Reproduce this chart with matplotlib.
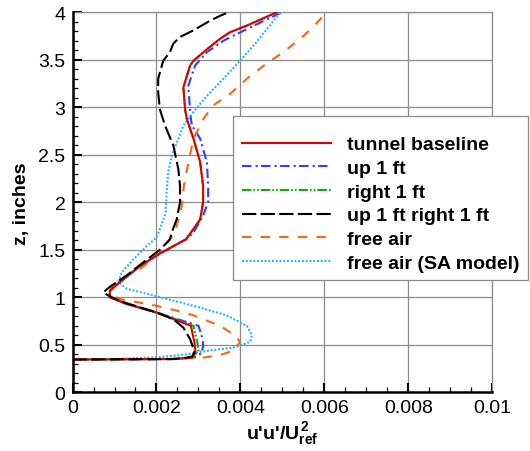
import matplotlib
matplotlib.use("Agg")
import matplotlib.pyplot as plt
from matplotlib.ticker import MultipleLocator, FuncFormatter

plt.rcParams['font.family'] = ['Liberation Sans', 'DejaVu Sans']
plt.rcParams['mathtext.fontset'] = 'custom'
plt.rcParams['mathtext.rm'] = 'Liberation Sans:bold'
plt.rcParams['mathtext.bf'] = 'Liberation Sans:bold'
plt.rcParams['mathtext.it'] = 'Liberation Sans:bold'
plt.rcParams['lines.scale_dashes'] = False

# Profiles of u'u'/Uref^2 against height z (inches)
tb_z = [0.345, 0.35, 0.36, 0.38, 0.42, 0.53, 0.70, 0.77, 0.84, 0.93, 1.00, 1.07, 1.16, 1.33, 1.46,
        1.61, 1.67, 1.72, 1.82, 2.00, 2.17, 2.42, 2.67, 2.88, 2.98, 3.21, 3.44, 3.49, 3.61, 3.72,
        3.79, 3.86, 3.92, 4.00]
tb_uu = [0.0, 0.0024, 0.0027, 0.00288, 0.00293, 0.00290, 0.00282, 0.0024, 0.0020, 0.00129, 0.00089,
         0.00089, 0.00113, 0.00161, 0.00208, 0.0027, 0.0028, 0.00288, 0.00304, 0.00311, 0.00311,
         0.00304, 0.00288, 0.00272, 0.00268, 0.00264, 0.00280, 0.00288, 0.00320, 0.00351, 0.00375,
         0.00415, 0.00446, 0.00486]

up_z = [0.345, 0.35, 0.37, 0.42, 0.49, 0.56, 0.70, 0.77, 0.84, 0.93, 1.00, 1.07, 1.16, 1.33, 1.46,
        1.61, 1.68, 1.86, 2.00, 2.17, 2.42, 2.67, 2.81, 2.95, 3.23, 3.44, 3.58, 3.70, 3.84, 4.00]
up_uu = [0.0, 0.0025, 0.00296, 0.00308, 0.00311, 0.0031, 0.0030, 0.0025, 0.0020, 0.00129, 0.00089,
         0.00089, 0.00113, 0.00161, 0.00208, 0.0027, 0.00288, 0.00311, 0.00323, 0.00323, 0.0032,
         0.00304, 0.00284, 0.0028, 0.00276, 0.00292, 0.0032, 0.00359, 0.00423, 0.00498]

rt_z = [0.345, 0.35, 0.37, 0.44, 0.53, 0.70, 0.77, 0.84, 0.93, 1.00, 1.07, 1.16, 1.33, 1.46,
        1.61, 1.67, 1.72, 1.82, 2.00, 2.17, 2.42, 2.67, 2.88, 2.98, 3.21, 3.44, 3.49, 3.61, 3.72,
        3.79, 3.86, 3.92, 4.00]
rt_uu = [0.0, 0.0024, 0.00288, 0.0030, 0.00297, 0.00288, 0.00245, 0.0020, 0.00129, 0.00089,
         0.00089, 0.00113, 0.00161, 0.00208, 0.0027, 0.0028, 0.00288, 0.00304, 0.00311, 0.00311,
         0.00304, 0.00288, 0.00272, 0.00268, 0.00264, 0.00280, 0.00288, 0.00320, 0.00351, 0.00375,
         0.00415, 0.00446, 0.00486]

ur_z = [0.345, 0.35, 0.37, 0.42, 0.46, 0.56, 0.68, 0.77, 0.84, 0.96, 1.02, 1.05, 1.11, 1.23, 1.37,
        1.50, 1.61, 1.68, 1.82, 2.00, 2.17, 2.35, 2.60, 2.81, 2.98, 3.16, 3.30, 3.49, 3.58, 3.67,
        3.74, 3.81, 3.91, 3.96, 4.00]
ur_uu = [0.0, 0.0024, 0.00284, 0.0029, 0.00288, 0.0028, 0.00264, 0.0024, 0.0020, 0.00113, 0.00085,
         0.00073, 0.00089, 0.00129, 0.00169, 0.00208, 0.00232, 0.00236, 0.00248, 0.00256, 0.00256,
         0.00252, 0.0024, 0.0022, 0.00208, 0.00204, 0.00204, 0.00216, 0.00232, 0.0024, 0.00256,
         0.00288, 0.00327, 0.0035, 0.00371]

fa_z = [0.345, 0.35, 0.36, 0.39, 0.44, 0.53, 0.60, 0.70, 0.81, 0.86, 0.91, 0.95, 0.98, 1.03, 1.11,
        1.21, 1.30, 1.47, 1.68, 1.82, 1.96, 2.17, 2.42, 2.67, 2.88, 3.02, 3.14, 3.30, 3.46, 3.58,
        3.75, 3.88, 4.00]
fa_uu = [0.0, 0.00208, 0.00304, 0.00351, 0.00383, 0.00399, 0.00387, 0.00351, 0.00288, 0.00248,
         0.0020, 0.00153, 0.00113, 0.00093, 0.00093, 0.00121, 0.00161, 0.00208, 0.00244, 0.00252,
         0.0026, 0.00265, 0.00276, 0.00288, 0.00312, 0.00335, 0.00375, 0.00415, 0.00462, 0.00502,
         0.0055, 0.0058, 0.00605]

sa_z = [0.345, 0.35, 0.37, 0.40, 0.44, 0.47, 0.53, 0.60, 0.70, 0.81, 0.91, 1.02, 1.09, 1.16, 1.26,
        1.40, 1.54, 1.63, 1.72, 1.89, 2.11, 2.32, 2.49, 2.67, 2.81, 2.95, 3.12, 3.30, 3.49, 3.65,
        3.86, 4.00]
sa_uu = [0.0, 0.0010, 0.00208, 0.00272, 0.00327, 0.00383, 0.00423, 0.00427, 0.00415, 0.00367,
         0.00288, 0.00192, 0.00129, 0.00109, 0.00117, 0.00145, 0.00177, 0.0020, 0.00208, 0.00222,
         0.00224, 0.00228, 0.00236, 0.00252, 0.00264, 0.00288, 0.0032, 0.00359, 0.00399, 0.00431,
         0.0047, 0.00494]

labels = ["tunnel baseline", "up 1 ft", "right 1 ft", "up 1 ft right 1 ft", "free air",
          "free air (SA model)"]

fig = plt.figure(figsize=(5.30, 4.52), dpi=100)
ax = fig.add_axes([0.1368, 0.1299, 0.7924, 0.8407])

lw = 1.5
ax.plot(tb_uu, tb_z, color='#dd0000', lw=lw, label=labels[0], zorder=4)
ax.plot(up_uu, up_z, color='#3a3aff', lw=lw, dashes=(6.8, 3.0, 1.5, 2.4), label=labels[1], zorder=3)
ax.plot(rt_uu, rt_z, color='#11aa11', lw=lw, dashes=(6.7, 1.5, 1.2, 1.5, 1.2, 1.5), label=labels[2], zorder=3)
ax.plot(ur_uu, ur_z, color='black', lw=lw, dashes=(10.3, 3.1), label=labels[3], zorder=5)
ax.plot(fa_uu, fa_z, color='#ff6414', lw=lw, dashes=(6.7, 6.7), label=labels[4], zorder=3)
ax.plot(sa_uu, sa_z, color='#22b4ff', lw=lw, dashes=(1.4, 1.3), label=labels[5], zorder=3)

ax.set_xlim(0, 0.01)
ax.set_ylim(0, 4)
ax.xaxis.set_major_locator(MultipleLocator(0.002))
ax.xaxis.set_minor_locator(MultipleLocator(0.0005))
ax.yaxis.set_major_locator(MultipleLocator(0.5))
ax.yaxis.set_minor_locator(MultipleLocator(0.1))
fmt = FuncFormatter(lambda v, p: "%g" % round(v, 6))
ax.xaxis.set_major_formatter(fmt)
ax.yaxis.set_major_formatter(fmt)

ax.grid(True, which='major', color='#8c8c8c', lw=0.9)
ax.set_axisbelow(True)
for s in ('top', 'right'):
    ax.spines[s].set_color('#8c8c8c')
    ax.spines[s].set_linewidth(0.9)
for s in ('left', 'bottom'):
    ax.spines[s].set_color('black')
    ax.spines[s].set_linewidth(1.8)
    ax.spines[s].set_zorder(6)
ax.tick_params(which='major', direction='in', length=6.5, width=1.5, labelsize=14, pad=5,
               top=False, right=False)
ax.tick_params(which='minor', direction='in', length=3.6, width=0.9, top=False, right=False)

ax.set_xlabel("u'u'/U$_{\\mathbf{ref}}^{\\,\\mathbf{2}}$", fontsize=14, fontweight='bold', labelpad=2)
ax.set_ylabel("z, inches", fontsize=14, fontweight='bold', labelpad=6)

leg = ax.legend(loc='upper left', bbox_to_anchor=(0.382, 0.727), borderaxespad=0,
                prop={'weight': 'bold', 'size': 14}, handlelength=4.6, handletextpad=0.8,
                labelspacing=0.31, borderpad=0.45, fancybox=False, framealpha=1,
                edgecolor='#8c8c8c', title=' ', title_fontsize=4)
leg.get_frame().set_linewidth(0.9)
leg.set_zorder(10)

fig.savefig("out.png", dpi=100)
